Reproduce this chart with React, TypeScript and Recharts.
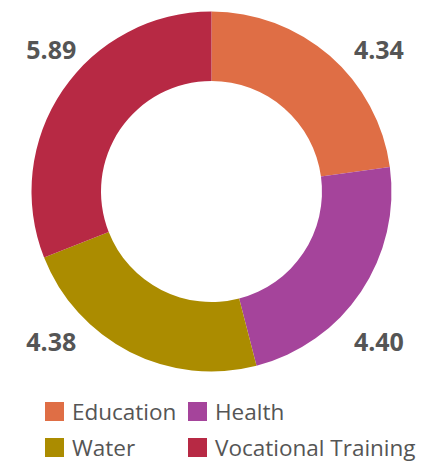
import React from 'react';
import { PieChart, Pie, Cell, Legend } from 'recharts';

const categories = ['Education', 'Health', 'Water', 'Vocational Training'];
const values = [4.34, 4.4, 4.38, 5.89];
const colors = ['#DF6E45', '#A5449B', '#AB8C00', '#B72944'];

const data = categories.map((name, i) => ({ name, value: values[i] }));

const RAD = Math.PI / 180;

// labels sit out near the corners of the ring, one per quadrant
const renderLabel = (props: any) => {
    const { cx, cy, midAngle, outerRadius, value } = props;
    const c = Math.cos(-midAngle * RAD);
    const s = Math.sin(-midAngle * RAD);
    const x = cx + (c >= 0 ? 0.93 : -0.89) * outerRadius;
    const y = cy + (s >= 0 ? 0.83 : -0.79) * outerRadius;
    return (
        <text
            x={x}
            y={y}
            textAnchor="middle"
            dominantBaseline="central"
            fill="#555555"
            fontFamily="'Open Sans', sans-serif"
            fontWeight={700}
            fontSize={25}
        >
            {value.toFixed(2)}
        </text>
    );
};

const renderLegend = (props: any) => {
    const payload = [...(props.payload || [])].sort(
        (a: any, b: any) => categories.indexOf(a.value) - categories.indexOf(b.value)
    );
    return (
        <div
            style={{
                display: 'grid',
                gridTemplateColumns: '143px auto',
                paddingLeft: 45,
                fontFamily: "'Open Sans', sans-serif",
                fontSize: 22.5,
                color: '#555555',
            }}
        >
            {payload.map((entry: any) => (
                <div key={entry.value} style={{ display: 'flex', alignItems: 'center', height: 36 }}>
                    <span style={{ width: 19, height: 19, background: entry.color, marginRight: 8, flexShrink: 0 }} />
                    <span style={{ whiteSpace: 'nowrap' }}>{entry.value}</span>
                </div>
            ))}
        </div>
    );
};

const App = () => {
    return (
        <div style={{ position: 'absolute', left: 0, top: 0 }}>
            <PieChart width={427} height={462} margin={{ top: 0, right: 0, bottom: 0, left: 0 }}>
                <Pie
                    data={data}
                    dataKey="value"
                    nameKey="name"
                    cx={211.5}
                    cy={191.5}
                    innerRadius={110.5}
                    outerRadius={180}
                    startAngle={90}
                    endAngle={-270}
                    stroke="none"
                    label={renderLabel}
                    labelLine={false}
                    isAnimationActive={false}
                >
                    {data.map((d, i) => (
                        <Cell key={d.name} fill={colors[i]} />
                    ))}
                </Pie>
                <Legend
                    content={renderLegend}
                    itemSorter={null}
                    wrapperStyle={{ left: 0, top: 393.5, width: 427 }}
                />
            </PieChart>
        </div>
    );
};

export default App;
